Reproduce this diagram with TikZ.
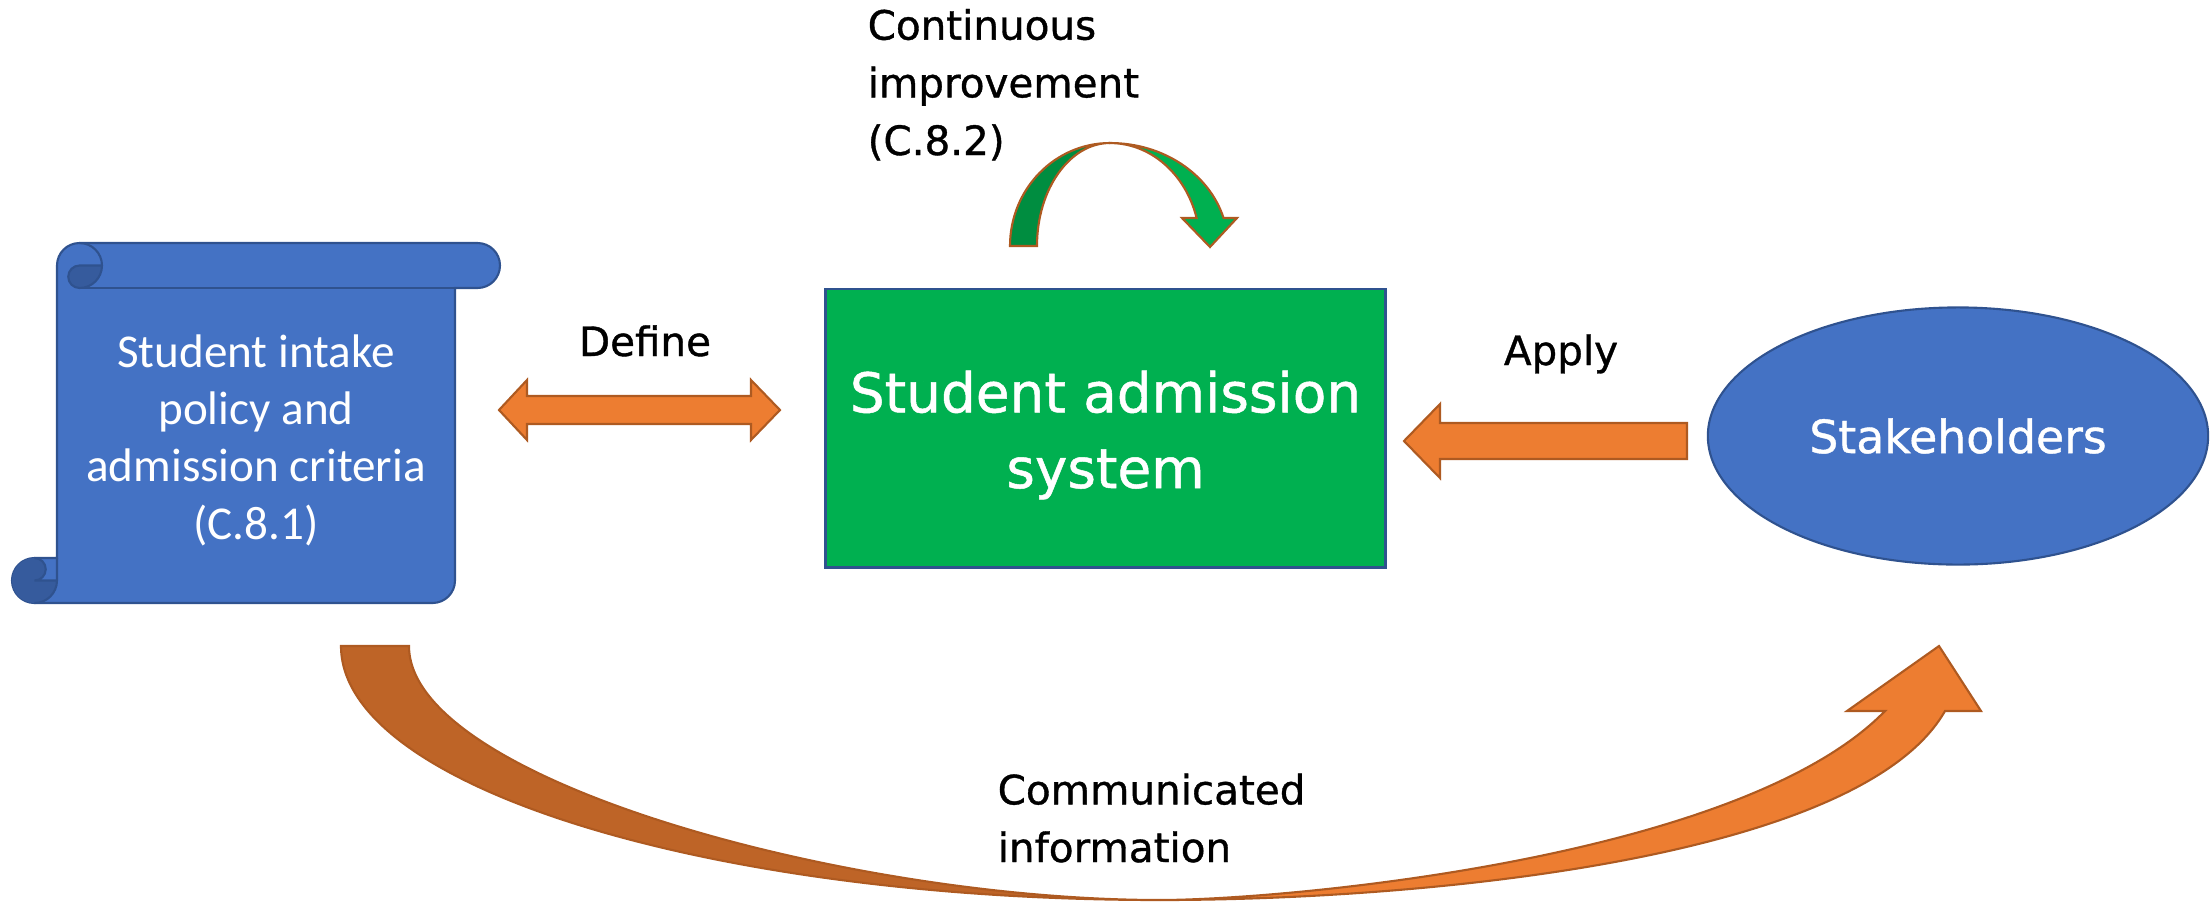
\documentclass[tikz,border=0pt]{standalone}
\usepackage{fontspec}
\setmainfont{DejaVu Sans}
\newfontfamily\labelfont[FakeBold=0.9]{DejaVu Sans}
\newfontfamily\scrollfont{Carlito}
\usetikzlibrary{shapes.geometric}

\definecolor{scrollblue}{HTML}{4472C4}
\definecolor{scrolldark}{HTML}{365B9D}
\definecolor{lineblue}{HTML}{2F528F}
\definecolor{boxgreen}{HTML}{00B050}
\definecolor{boxgreendark}{HTML}{008D40}
\definecolor{arroworange}{HTML}{ED7D31}
\definecolor{arroworangedark}{HTML}{BE6427}
\definecolor{arrowline}{HTML}{AE5A21}

\begin{document}
\begin{tikzpicture}[x=0.01cm,y=-0.01cm,
		label text/.style={font=\labelfont\fontsize{11.5}{16.4}\selectfont,inner sep=0},
		block arrow/.style={fill=arroworange,draw=arrowline,line width=0.6pt},
		scroll line/.style={draw=lineblue,line width=0.6pt}]
	\useasboundingbox (0,0) rectangle (2211,902);
	
	\filldraw[fill=scrollblue,scroll line] (57,558) to (57,265.5) arc[start angle=180, end angle=270, radius=22.5] to (477.5,243) arc[start angle=270, end angle=450, radius=22.5] to (455,288) to (455,580.5) arc[start angle=0, end angle=90, radius=22.5] to (34.5,603) arc[start angle=90, end angle=270, radius=22.5] to cycle;
	\fill[scrolldark] (102,265.5) arc[start angle=0, end angle=90, radius=22.5] arc[start angle=90, end angle=270, radius=11.25] to cycle;
	\fill[scrolldark] (57,580.5) arc[start angle=0, end angle=270, radius=22.5] arc[start angle=270, end angle=450, radius=11.25] to cycle;
	\draw[scroll line] (79.5,243) arc[start angle=270, end angle=450, radius=22.5] arc[start angle=90, end angle=270, radius=11.25] to (102,265.5);
	\draw[scroll line] (455,288) to (79.5,288);
	\draw[scroll line] (34.5,558) arc[start angle=270, end angle=450, radius=11.25] to (57,580.5);
	\draw[scroll line] (34.5,603) arc[start angle=90, end angle=0, radius=22.5] to (57,558);
	\node[text=white,align=center,inner sep=0,font=\scrollfont\fontsize{13.4}{16.3}\selectfont] (policy) at (256,440) {Student intake\\policy and\\admission criteria\\(C.8.1)};
	
	\node[fill=boxgreen,draw=lineblue,line width=0.8pt,minimum width=5.59cm,minimum height=2.78cm] (system) at (1105.5,428) {};
	\node[text=white,align=center,inner sep=0,anchor=base,font=\labelfont\fontsize{15.6}{21.5}\selectfont] (systemtext) at (1105.5,488) {Student admission\\system};
	\node[ellipse,fill=scrollblue,draw=lineblue,line width=0.6pt,minimum width=5cm,minimum height=2.57cm,text=white,font=\labelfont\fontsize{13}{16}\selectfont] (stakeholders) at (1958,436) {Stakeholders};
	
	\filldraw[block arrow] (499,410) to (527,380) to (527,396) to (751,396) to (751,380) to (780,410) to (751,440) to (751,424) to (527,424) to (527,440) to cycle;
	\filldraw[block arrow] (1404,441) to (1440,404) to (1440,423) to (1687,423) to (1687,459) to (1440,459) to (1440,478) to cycle;
	
	\filldraw[fill=boxgreendark,draw=arrowline,line width=0.6pt] (1010,246) arc[start angle=180, end angle=270, x radius=100, y radius=103] arc[start angle=270, end angle=180, x radius=73, y radius=103] to cycle;
	\filldraw[fill=boxgreen,draw=arrowline,line width=0.6pt] (1110,143) arc[start angle=270, end angle=344.2, x radius=118, y radius=103] to (1237,218) to (1210,247) to (1182,218) to (1196.6,218) arc[start angle=344.2, end angle=270, x radius=90, y radius=103] to cycle;
	
	\filldraw[fill=arroworangedark,draw=arrowline,line width=0.6pt] (341,646) arc[start angle=180, end angle=90, x radius=819, y radius=254] .. controls (850,900) and (409,780) .. (409,646) to cycle;
	\filldraw[block arrow] (1160,900) .. controls (1420,900) and (1860,860) .. (1945,711) to (1981,711) to (1939,646) to (1847,711) to (1885,711) .. controls (1740,860) and (1280,900) .. (1160,900) to cycle;
	
	\node[label text,align=left,anchor=base west] (improvement) at (867,155) {Continuous\\improvement\\(C.8.2)};
	\node[label text,anchor=base] (define) at (645,356) {Define};
	\node[label text,anchor=base] (apply) at (1561,365) {Apply};
	\node[label text,align=left,anchor=base west] (communicated) at (997,862) {Communicated\\information};
\end{tikzpicture}
\end{document}
